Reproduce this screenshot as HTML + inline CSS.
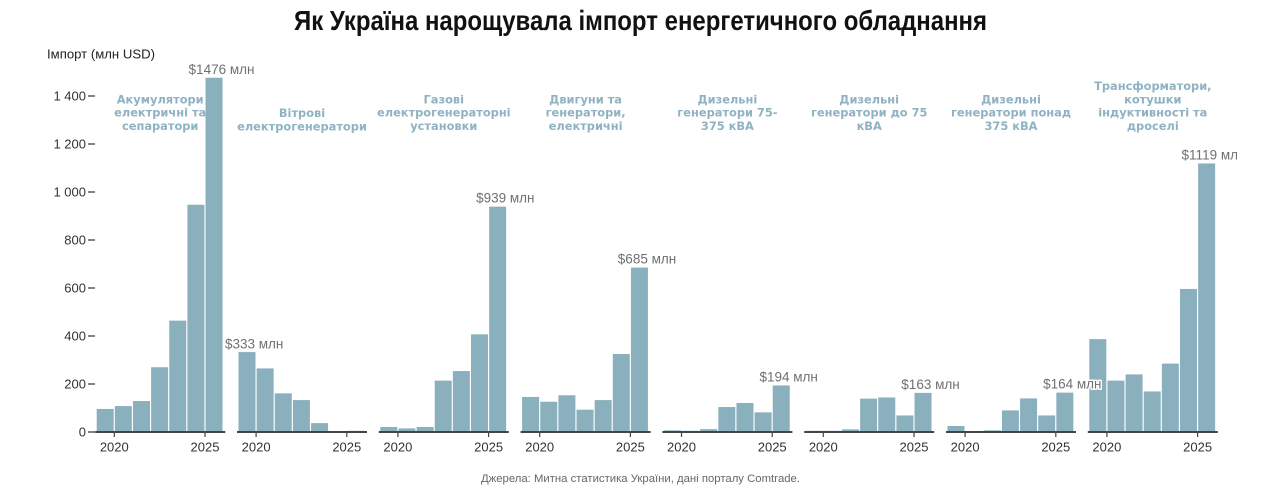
<!DOCTYPE html>
<html>
<head>
<meta charset="utf-8">
<style>
  html, body { margin: 0; padding: 0; background: #ffffff; }
  svg { display: block; }
  .flab { font-family: "DejaVu Sans", "Liberation Sans", sans-serif; font-weight: bold; font-size: 11.4px; fill: #8fb3c2; text-anchor: middle; stroke: #ffffff; stroke-width: 3px; paint-order: stroke; stroke-linejoin: round; }
  .vlab { font-family: "Liberation Sans", "DejaVu Sans", sans-serif; font-size: 13.5px; fill: #707070; text-anchor: middle; stroke: #ffffff; stroke-width: 3px; paint-order: stroke; stroke-linejoin: round; }
  .xt { font-family: "Liberation Sans", "DejaVu Sans", sans-serif; font-size: 13px; fill: #333333; text-anchor: middle; }
  .yt { font-family: "Liberation Sans", "DejaVu Sans", sans-serif; font-size: 13px; fill: #333333; text-anchor: end; }
  .grid line { stroke: #e6e6e6; stroke-width: 1; }
  .bars rect { fill: #8ab0be; }
  .base { stroke: #444444; stroke-width: 2; }
  .tick { stroke: #444444; stroke-width: 1.2; }
</style>
</head>
<body>
<svg width="1280" height="495" viewBox="0 0 1280 495" xmlns="http://www.w3.org/2000/svg">
  <defs>
    <clipPath id="clipR"><rect x="0" y="0" width="1237" height="495"/></clipPath>
    <g id="grid">
      <line x1="0" x2="127" y1="96.5" y2="96.5"/>
      <line x1="0" x2="127" y1="144.5" y2="144.5"/>
      <line x1="0" x2="127" y1="192.5" y2="192.5"/>
      <line x1="0" x2="127" y1="240.5" y2="240.5"/>
      <line x1="0" x2="127" y1="288.5" y2="288.5"/>
      <line x1="0" x2="127" y1="336.5" y2="336.5"/>
      <line x1="0" x2="127" y1="384.5" y2="384.5"/>
    </g>
    <g id="xaxis">
      <line class="base" x1="-1.5" x2="128.5" y1="432" y2="432"/>
      <line class="tick" x1="17.6" x2="17.6" y1="432" y2="437"/>
      <line class="tick" x1="108.3" x2="108.3" y1="432" y2="437"/>
      <text class="xt" x="17.6" y="451.5">2020</text>
      <text class="xt" x="108.3" y="451.5">2025</text>
    </g>
  </defs>

  <!-- Title -->
  <text x="640.5" y="30" text-anchor="middle" textLength="693" lengthAdjust="spacingAndGlyphs" style="font-family:'Liberation Sans','DejaVu Sans',sans-serif;font-weight:bold;font-size:28px;fill:#111111;">Як Україна нарощувала імпорт енергетичного обладнання</text>

  <!-- Y axis label -->
  <text x="47" y="58.5" textLength="108" lengthAdjust="spacingAndGlyphs" style="font-family:'Liberation Sans','DejaVu Sans',sans-serif;font-size:13px;fill:#222222;">Імпорт (млн USD)</text>

  <!-- Y ticks -->
  <g>
    <line class="tick" x1="88" x2="95" y1="96" y2="96" style="stroke:#333"/>
    <line class="tick" x1="88" x2="95" y1="144" y2="144" style="stroke:#333"/>
    <line class="tick" x1="88" x2="95" y1="192" y2="192" style="stroke:#333"/>
    <line class="tick" x1="88" x2="95" y1="240" y2="240" style="stroke:#333"/>
    <line class="tick" x1="88" x2="95" y1="288" y2="288" style="stroke:#333"/>
    <line class="tick" x1="88" x2="95" y1="336" y2="336" style="stroke:#333"/>
    <line class="tick" x1="88" x2="95" y1="384" y2="384" style="stroke:#333"/>
    <line class="tick" x1="88" x2="95" y1="432" y2="432" style="stroke:#333"/>
    <text class="yt" x="86" y="100.5">1 400</text>
    <text class="yt" x="86" y="148.5">1 200</text>
    <text class="yt" x="86" y="196.5">1 000</text>
    <text class="yt" x="86" y="244.5">800</text>
    <text class="yt" x="86" y="292.5">600</text>
    <text class="yt" x="86" y="340.5">400</text>
    <text class="yt" x="86" y="388.5">200</text>
    <text class="yt" x="86" y="436.5">0</text>
  </g>

  <!-- Panel 1 -->
  <g transform="translate(96.7,0)">
    <g class="grid"><use href="#grid"/></g>
    <text class="flab" x="63.5" y="103.3">Акумулятори</text>
    <text class="flab" x="63.5" y="116.7">електричні та</text>
    <text class="flab" x="63.5" y="130">сепаратори</text>
    <g class="bars">
      <rect x="0" y="408.96" width="17" height="23.04"/>
      <rect x="18.14" y="406.08" width="17" height="25.92"/>
      <rect x="36.28" y="401.04" width="17" height="30.96"/>
      <rect x="54.42" y="367.2" width="17" height="64.8"/>
      <rect x="72.56" y="320.64" width="17" height="111.36"/>
      <rect x="90.7" y="204.72" width="17" height="227.28"/>
      <rect x="108.84" y="77.76" width="17" height="354.24"/>
    </g>
    <use href="#xaxis"/>
  </g>

  <!-- Panel 2 -->
  <g transform="translate(238.5,0)">
    <g class="grid"><use href="#grid"/></g>
    <text class="flab" x="63.5" y="117">Вітрові</text>
    <text class="flab" x="63.5" y="130.4">електрогенератори</text>
    <g class="bars">
      <rect x="0" y="352.08" width="17" height="79.92"/>
      <rect x="18.14" y="368.4" width="17" height="63.6"/>
      <rect x="36.28" y="393.36" width="17" height="38.64"/>
      <rect x="54.42" y="400.08" width="17" height="31.92"/>
      <rect x="72.56" y="423.12" width="17" height="8.88"/>
      <rect x="108.84" y="430.8" width="17" height="1.2"/>
    </g>
    <use href="#xaxis"/>
  </g>

  <!-- Panel 3 -->
  <g transform="translate(380.3,0)">
    <g class="grid"><use href="#grid"/></g>
    <text class="flab" x="63.5" y="103.3">Газові</text>
    <text class="flab" x="63.5" y="116.7">електрогенераторні</text>
    <text class="flab" x="63.5" y="130">установки</text>
    <g class="bars">
      <rect x="0" y="426.96" width="17" height="5.04"/>
      <rect x="18.14" y="428.4" width="17" height="3.6"/>
      <rect x="36.28" y="426.96" width="17" height="5.04"/>
      <rect x="54.42" y="380.64" width="17" height="51.36"/>
      <rect x="72.56" y="371.04" width="17" height="60.96"/>
      <rect x="90.7" y="334.32" width="17" height="97.68"/>
      <rect x="108.84" y="206.64" width="17" height="225.36"/>
    </g>
    <use href="#xaxis"/>
  </g>

  <!-- Panel 4 -->
  <g transform="translate(522.1,0)">
    <g class="grid"><use href="#grid"/></g>
    <text class="flab" x="63.5" y="103.3">Двигуни та</text>
    <text class="flab" x="63.5" y="116.7">генератори,</text>
    <text class="flab" x="63.5" y="130">електричні</text>
    <g class="bars">
      <rect x="0" y="396.96" width="17" height="35.04"/>
      <rect x="18.14" y="401.76" width="17" height="30.24"/>
      <rect x="36.28" y="395.28" width="17" height="36.72"/>
      <rect x="54.42" y="409.68" width="17" height="22.32"/>
      <rect x="72.56" y="400.08" width="17" height="31.92"/>
      <rect x="90.7" y="354" width="17" height="78"/>
      <rect x="108.84" y="267.6" width="17" height="164.4"/>
    </g>
    <use href="#xaxis"/>
  </g>

  <!-- Panel 5 -->
  <g transform="translate(663.9,0)">
    <g class="grid"><use href="#grid"/></g>
    <text class="flab" x="63.5" y="103.3">Дизельні</text>
    <text class="flab" x="63.5" y="116.7">генератори 75-</text>
    <text class="flab" x="63.5" y="130">375 кВА</text>
    <g class="bars">
      <rect x="0" y="430.32" width="17" height="1.68"/>
      <rect x="18.14" y="430.8" width="17" height="1.2"/>
      <rect x="36.28" y="429.12" width="17" height="2.88"/>
      <rect x="54.42" y="407.04" width="17" height="24.96"/>
      <rect x="72.56" y="402.96" width="17" height="29.04"/>
      <rect x="90.7" y="412.32" width="17" height="19.68"/>
      <rect x="108.84" y="385.44" width="17" height="46.56"/>
    </g>
    <use href="#xaxis"/>
  </g>

  <!-- Panel 6 -->
  <g transform="translate(805.7,0)">
    <g class="grid"><use href="#grid"/></g>
    <text class="flab" x="63.5" y="103.3">Дизельні</text>
    <text class="flab" x="63.5" y="116.7">генератори до 75</text>
    <text class="flab" x="63.5" y="130">кВА</text>
    <g class="bars">
      <rect x="0" y="430.8" width="17" height="1.2"/>
      <rect x="18.14" y="430.8" width="17" height="1.2"/>
      <rect x="36.28" y="429.36" width="17" height="2.64"/>
      <rect x="54.42" y="398.64" width="17" height="33.36"/>
      <rect x="72.56" y="397.44" width="17" height="34.56"/>
      <rect x="90.7" y="415.44" width="17" height="16.56"/>
      <rect x="108.84" y="392.88" width="17" height="39.12"/>
    </g>
    <use href="#xaxis"/>
  </g>

  <!-- Panel 7 -->
  <g transform="translate(947.5,0)">
    <g class="grid"><use href="#grid"/></g>
    <text class="flab" x="63.5" y="103.3">Дизельні</text>
    <text class="flab" x="63.5" y="116.7">генератори понад</text>
    <text class="flab" x="63.5" y="130">375 кВА</text>
    <g class="bars">
      <rect x="0" y="426" width="17" height="6"/>
      <rect x="18.14" y="431.5" width="17" height="0.5"/>
      <rect x="36.28" y="430.32" width="17" height="1.68"/>
      <rect x="54.42" y="410.4" width="17" height="21.6"/>
      <rect x="72.56" y="398.4" width="17" height="33.6"/>
      <rect x="90.7" y="415.44" width="17" height="16.56"/>
      <rect x="108.84" y="392.64" width="17" height="39.36"/>
    </g>
    <use href="#xaxis"/>
  </g>

  <!-- Panel 8 -->
  <g transform="translate(1089.3,0)">
    <g class="grid"><use href="#grid"/></g>
    <text class="flab" x="63.5" y="90">Трансформатори,</text>
    <text class="flab" x="63.5" y="103.3">котушки</text>
    <text class="flab" x="63.5" y="116.7">індуктивності та</text>
    <text class="flab" x="63.5" y="130">дроселі</text>
    <g class="bars">
      <rect x="0" y="339.12" width="17" height="92.88"/>
      <rect x="18.14" y="380.64" width="17" height="51.36"/>
      <rect x="36.28" y="374.4" width="17" height="57.6"/>
      <rect x="54.42" y="391.44" width="17" height="40.56"/>
      <rect x="72.56" y="363.6" width="17" height="68.4"/>
      <rect x="90.7" y="288.96" width="17" height="143.04"/>
      <rect x="108.84" y="163.44" width="17" height="268.56"/>
    </g>
    <use href="#xaxis"/>
  </g>

  <!-- Value labels (drawn on top with halo) -->
  <text class="vlab" x="221.5" y="74">$1476 млн</text>
  <text class="vlab" x="254.2" y="348.3">$333 млн</text>
  <text class="vlab" x="505.3" y="202.6">$939 млн</text>
  <text class="vlab" x="647" y="263.6">$685 млн</text>
  <text class="vlab" x="788.7" y="381.6">$194 млн</text>
  <text class="vlab" x="930.5" y="389">$163 млн</text>
  <text class="vlab" x="1072.3" y="388.7">$164 млн</text>
  <g clip-path="url(#clipR)">
    <text class="vlab" x="1213.5" y="159.7">$1119 млн</text>
  </g>

  <!-- Source -->
  <text x="640.5" y="482" text-anchor="middle" textLength="319" lengthAdjust="spacingAndGlyphs" style="font-family:'Liberation Sans','DejaVu Sans',sans-serif;font-size:11px;fill:#666666;">Джерела: Митна статистика України, дані порталу Comtrade.</text>
</svg>
</body>
</html>
